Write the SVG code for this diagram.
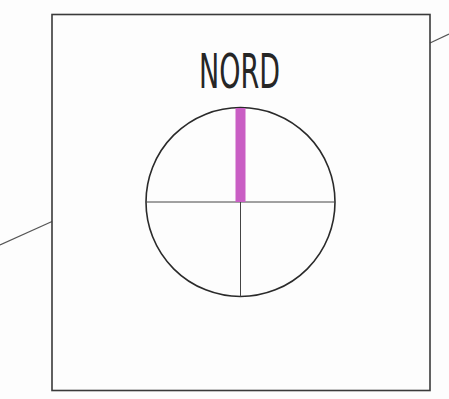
<svg xmlns="http://www.w3.org/2000/svg" width="449" height="399" viewBox="0 0 449 399">
<style>
.frame{fill:none;stroke:#3a3a3a;stroke-width:1.6}
.ext{stroke:#555;stroke-width:1.2;fill:none}
.cross{stroke:#444;stroke-width:1;fill:none}
.ring{fill:none;stroke:#2a2a2a;stroke-width:1.6}
.label{font-family:"DejaVu Sans Condensed","DejaVu Sans",sans-serif;font-size:48px;fill:#262626}
</style>
<rect width="449" height="399" fill="#fdfdfd"/>
<g id="connectors">
<line class="ext" x1="0" y1="245" x2="52" y2="221.5"/>
<line class="ext" x1="430" y1="43" x2="449" y2="34"/>
</g>
<g id="frame">
<rect class="frame" x="52" y="14.5" width="378" height="376"/>
</g>
<g id="label">
<text class="label" x="199" y="88" textLength="81" lengthAdjust="spacingAndGlyphs">NORD</text>
</g>
<g id="compass">
<circle class="ring" cx="240.5" cy="202" r="94.5"/>
<line class="cross" x1="146" y1="202" x2="335" y2="202"/>
<line class="cross" x1="240.5" y1="202" x2="240.5" y2="296.5"/>
<rect x="235.5" y="108" width="10" height="94" fill="#c95ec4"/>
</g>
</svg>
